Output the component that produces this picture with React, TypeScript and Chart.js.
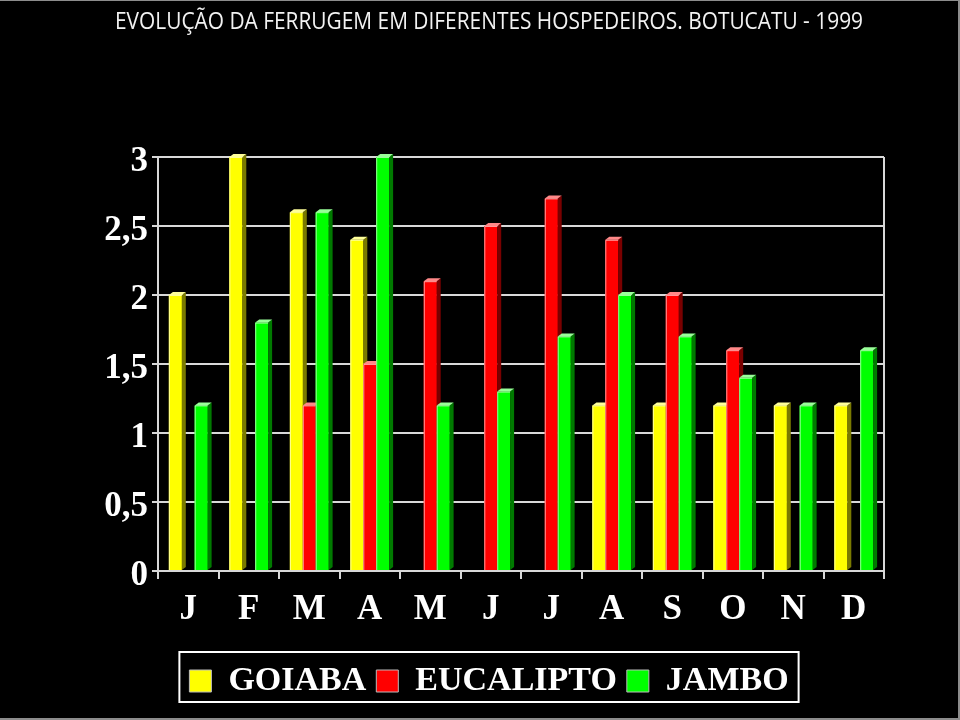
import React, { useEffect, useRef } from "react";
import { Chart, registerables } from "chart.js";
Chart.register(...registerables);

const titleText = "EVOLUÇÃO DA FERRUGEM EM DIFERENTES HOSPEDEIROS. BOTUCATU - 1999";
const months = ["J", "F", "M", "A", "M", "J", "J", "A", "S", "O", "N", "D"];
const seriesNames = ["GOIABA", "EUCALIPTO", "JAMBO"];
const goiaba = [2.0, 3.0, 2.6, 2.4, 0, 0, 0, 1.2, 1.2, 1.2, 1.2, 1.2];
const eucalipto = [0, 0, 1.2, 1.5, 2.1, 2.5, 2.7, 2.4, 2.0, 1.6, 0, 0];
const jambo = [1.2, 1.8, 2.6, 3.0, 1.2, 1.3, 1.7, 2.0, 1.7, 1.4, 1.2, 1.6];
const yMin = 0;
const yMax = 3;
const yStep = 0.5;

const frontColors = ["#FFFF00", "#FF0000", "#00FF00"];
const topColors = ["#FFFF99", "#FF8888", "#99FF99"];
const sideColors = ["#7A7A00", "#7A0000", "#007A00"];
const lineColor = "#d8d8d8";
const serif = "'Liberation Serif', 'Times New Roman', serif";

const bar3d = {
  id: "bar3d",
  beforeDatasetsDraw(chart: any) {
    const { ctx, chartArea } = chart;
    ctx.save();
    ctx.strokeStyle = lineColor;
    ctx.lineWidth = 2;
    ctx.beginPath();
    ctx.moveTo(chartArea.right, chartArea.top);
    ctx.lineTo(chartArea.right, chartArea.bottom);
    ctx.stroke();
    ctx.restore();
  },
  afterDatasetsDraw(chart: any) {
    const ctx = chart.ctx;
    const dx = 4;
    const dy = -3;
    chart.data.datasets.forEach((ds: any, i: number) => {
      const meta = chart.getDatasetMeta(i);
      meta.data.forEach((el: any, j: number) => {
        const v = ds.data[j];
        if (!v) return;
        const { x, y, base, width } = el.getProps(["x", "y", "base", "width"], true);
        const l = x - width / 2;
        const r = x + width / 2;
        ctx.save();
        ctx.fillStyle = frontColors[i];
        ctx.fillRect(l, y, width, base - y);
        ctx.fillStyle = sideColors[i];
        ctx.beginPath();
        ctx.moveTo(r, y);
        ctx.lineTo(r + dx, y + dy);
        ctx.lineTo(r + dx, base + dy);
        ctx.lineTo(r, base);
        ctx.closePath();
        ctx.fill();
        ctx.fillStyle = topColors[i];
        ctx.beginPath();
        ctx.moveTo(l, y);
        ctx.lineTo(l + dx, y + dy);
        ctx.lineTo(r + dx, y + dy);
        ctx.lineTo(r, y);
        ctx.closePath();
        ctx.fill();
        ctx.strokeStyle = "rgba(255,255,255,0.6)";
        ctx.lineWidth = 1;
        ctx.beginPath();
        ctx.moveTo(l + 0.5, base);
        ctx.lineTo(l + 0.5, y + 0.5);
        ctx.lineTo(r, y + 0.5);
        ctx.stroke();
        ctx.restore();
      });
    });
  },
  afterDraw(chart: any) {
    const ctx = chart.ctx;
    // title (condensed, like the original Calibri heading)
    ctx.save();
    ctx.font = "normal 23px 'Open Sans', sans-serif";
    ctx.fillStyle = "#f2f2f2";
    ctx.textBaseline = "alphabetic";
    ctx.textAlign = "center";
    const w = ctx.measureText(titleText).width;
    const sx = 748 / w;
    ctx.translate(489, 28.5);
    ctx.scale(sx, 1);
    ctx.fillText(titleText, 0, 0);
    ctx.restore();

    const lg = chart.legend;
    if (!lg || !lg.legendHitBoxes || !lg.legendHitBoxes.length) return;
    const boxes = lg.legendHitBoxes;
    let minL = Infinity;
    let maxR = -Infinity;
    boxes.forEach((b: any) => {
      minL = Math.min(minL, b.left);
      maxR = Math.max(maxR, b.left + b.width);
    });
    ctx.save();
    ctx.strokeStyle = "#ffffff";
    ctx.lineWidth = 2;
    ctx.strokeRect(minL - 10, lg.top - 2, maxR - minL + 20, 50);
    ctx.restore();
  },
};

export default function App() {
  const ref = useRef<HTMLCanvasElement | null>(null);
  useEffect(() => {
    if (!ref.current) return;
    const data = [goiaba, eucalipto, jambo];
    const chart = new Chart(ref.current, {
      type: "bar",
      data: {
        labels: months,
        datasets: seriesNames.map((name, i) => ({
          label: name,
          data: data[i],
          backgroundColor: frontColors[i],
          borderWidth: 0,
          categoryPercentage: 0.64,
          barPercentage: 1.0,
        })),
      },
      options: {
        responsive: false,
        animation: false,
        layout: { padding: { left: 18, right: 0, top: 157, bottom: 12 } },
        plugins: {
          tooltip: { enabled: false },
          title: { display: false },
          legend: {
            position: "bottom",
            labels: {
              color: "#ffffff",
              font: { family: serif, size: 34, weight: "bold" },
              boxWidth: 22,
              boxHeight: 22,
              padding: 10,
              generateLabels: (c: any) =>
                c.data.datasets.map((ds: any, i: number) => ({
                  text: ds.label,
                  fillStyle: frontColors[i],
                  strokeStyle: "#bbbbbb",
                  lineWidth: 1,
                  fontColor: "#ffffff",
                  datasetIndex: i,
                  hidden: false,
                })),
            },
          },
        },
        scales: {
          x: {
            offset: true,
            grid: {
              display: true,
              drawOnChartArea: false,
              offset: true,
              color: lineColor,
              lineWidth: 2,
              tickLength: 8,
            },
            border: { display: true, color: lineColor, width: 2 },
            ticks: {
              color: "#ffffff",
              autoSkip: false,
              maxRotation: 0,
              padding: 10,
              font: { family: serif, size: 35, weight: "bold" },
            },
            afterFit: (s: any) => {
              s.height = 83;
            },
          },
          y: {
            min: yMin,
            max: yMax,
            grid: { color: lineColor, lineWidth: 2, tickLength: 6 },
            border: { display: true, color: lineColor, width: 2 },
            ticks: {
              stepSize: yStep,
              color: "#ffffff",
              padding: 4,
              labelOffset: 5,
              font: { family: serif, size: 35, weight: "bold" },
              callback: (v: any) => String(v).replace(".", ","),
            },
            afterFit: (s: any) => {
              s.width = 140;
            },
          },
          y2: {
            type: "linear",
            position: "right",
            display: true,
            grid: { display: false },
            border: { display: false },
            ticks: { display: false },
            afterFit: (s: any) => {
              s.width = 76;
            },
          },
        },
      },
      plugins: [bar3d],
    } as any);
    return () => chart.destroy();
  }, []);
  return (
    <div
      style={{
        position: "fixed",
        left: 0,
        top: 0,
        width: 960,
        height: 720,
        background: "#000000",
        boxShadow: "inset -2px 0 0 #8c8c8c, inset 0 1px 0 #8c8c8c, inset 0 -2px 0 #8c8c8c",
      }}
    >
      <canvas ref={ref} width={960} height={720} style={{ display: "block" }} />
    </div>
  );
}
